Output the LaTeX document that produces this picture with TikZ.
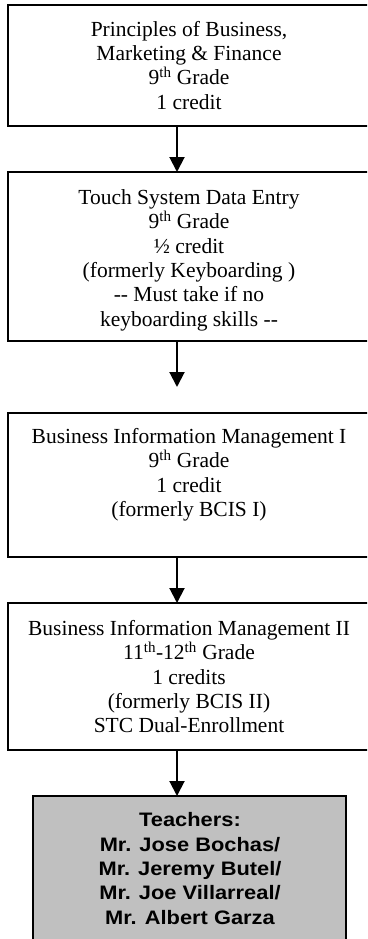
\documentclass[tikz,border=0pt]{standalone}
\usepackage{fontspec}
\setmainfont{Liberation Serif}
\newfontfamily\teachfont[FakeStretch=1.12]{Liberation Sans}
\usetikzlibrary{arrows.meta}
\definecolor{boxgray}{RGB}{192,192,192}
\newcommand{\fststrut}{\rule{0pt}{17pt}}
\newcommand{\tchstrut}{\rule{0pt}{16pt}}
\begin{document}
\begin{tikzpicture}[x=1pt,y=1pt,
  box/.style={draw=black, line width=2pt, rectangle, inner sep=0pt, outer sep=0pt, anchor=north west},
  txt/.style={inner sep=0pt, anchor=north, align=center, font=\fontsize{21.5}{24.4}\selectfont},
  tch/.style={inner sep=0pt, anchor=north, align=center, font=\teachfont\bfseries\fontsize{19.5}{24.4}\selectfont},
  flow/.style={line width=2pt, -{Triangle[length=15pt,width=15pt]}}]
\useasboundingbox (0,0) rectangle (367,-939);
\clip (0,0) rectangle (367,-939);
\fill[white] (0,0) rectangle (367,-939);
% boxes
\node[box, minimum width=372pt, minimum height=121pt] (b1) at (8,-5) {};
\node[box, minimum width=372pt, minimum height=169pt] (b2) at (8,-172) {};
\node[box, minimum width=372pt, minimum height=144pt] (b3) at (8,-413) {};
\node[box, minimum width=372pt, minimum height=147pt] (b4) at (8,-603) {};
\node[box, fill=boxgray, minimum width=313pt, minimum height=154pt] (b5) at (33,-796) {};
% texts
\node[txt] (t1) at (189,-19) {\fststrut Principles of Business,\\Marketing \& Finance\\9\textsuperscript{th} Grade\\1 credit};
\node[txt] (t2) at (189,-187) {\fststrut Touch System Data Entry\\9\textsuperscript{th} Grade\\½ credit\\(formerly Keyboarding )\\-{}- Must take if no\\keyboarding skills -{}-};
\node[txt] (t3) at (189,-426) {\fststrut Business Information Management I\\9\textsuperscript{th} Grade\\1 credit\\(formerly BCIS I)};
\node[txt] (t4) at (189,-618) {\fststrut Business Information Management II\\11\textsuperscript{th}-12\textsuperscript{th} Grade\\1 credits\\(formerly BCIS II)\\STC Dual-Enrollment};
\node[tch] (t5) at (190,-810.5) {\tchstrut Teachers:\\Mr. Jose Bochas/\\Mr. Jeremy Butel/\\Mr. Joe Villarreal/\\Mr. Albert Garza};
% arrows
\coordinate (ax) at (177,0);
\coordinate (a2end) at (177,-387);
\draw[flow] (b1.south -| ax) -- (b2.north -| ax);
\draw[flow] (b2.south -| ax) -- (a2end);
\draw[flow] (b3.south -| ax) -- (b4.north -| ax);
\draw[flow] (b4.south -| ax) -- (b5.north -| ax);
\end{tikzpicture}
\end{document}
